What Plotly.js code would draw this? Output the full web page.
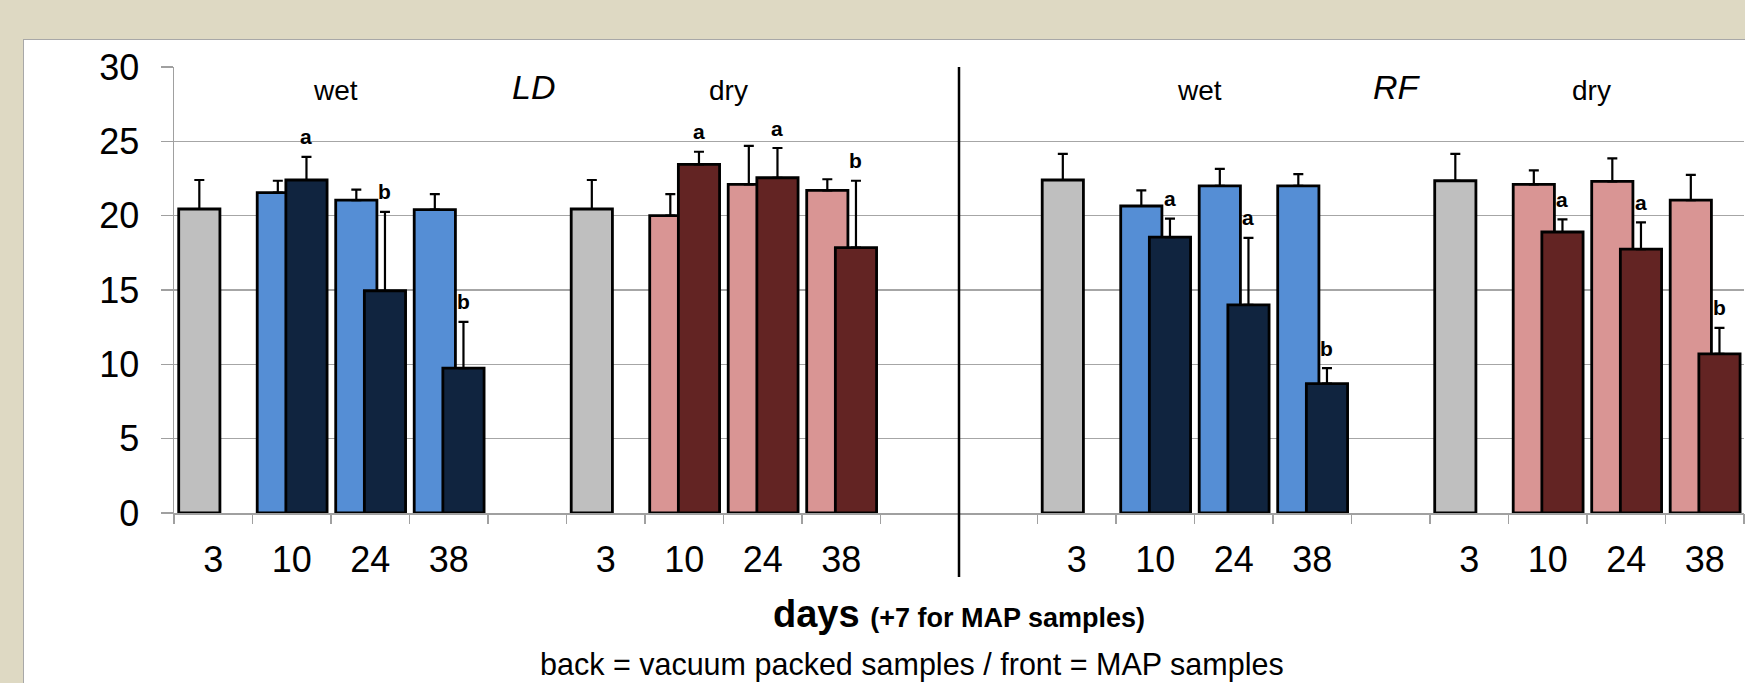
<!DOCTYPE html>
<html><head><meta charset="utf-8">
<script src="https://cdn.plot.ly/plotly-3.0.1.min.js"></script>
<style>
html,body{margin:0;padding:0;width:1745px;height:683px;overflow:hidden;background:#DED9C3;}
#panel{position:absolute;left:23px;top:39px;width:1760px;height:700px;background:#fff;border:1.5px solid #A8A8A8;}
#chart{position:absolute;left:0;top:0;width:1745px;height:683px;}
</style></head><body><div id="panel"></div><div id="chart"></div>
<script>
// ---- data ----
const dayLabels = ['3', '10', '24', '38'];
const groupLabels = ['wet', 'dry', 'wet', 'dry'];
const muscleLabels = ['LD', 'RF'];
// fresh (day 3) samples, one per group: LD wet, LD dry, RF wet, RF dry
const freshMean = [20.45, 20.45, 22.4, 22.35];
const freshSD   = [1.95, 1.95, 1.75, 1.8];
// vacuum packed (back), days 10, 24, 38
const ldWetVP = [21.55, 21.05, 20.4];   const ldWetVPsd = [0.8, 0.7, 1.05];
const ldDryVP = [20.0, 22.1, 21.7];     const ldDryVPsd = [1.45, 2.6, 0.75];
const rfWetVP = [20.65, 22.0, 22.0];    const rfWetVPsd = [1.05, 1.15, 0.8];
const rfDryVP = [22.1, 22.3, 21.05];    const rfDryVPsd = [0.95, 1.55, 1.7];
// MAP (front), days 10, 24, 38
const ldWetMAP = [22.4, 14.95, 9.75];   const ldWetMAPsd = [1.55, 5.3, 3.1];
const ldDryMAP = [23.45, 22.55, 17.85]; const ldDryMAPsd = [0.85, 2.0, 4.5];
const rfWetMAP = [18.55, 14.0, 8.7];    const rfWetMAPsd = [1.25, 4.5, 1.05];
const rfDryMAP = [18.9, 17.75, 10.7];   const rfDryMAPsd = [0.85, 1.8, 1.75];
// significance letters on MAP bars
const ldWetLetters = ['a', 'b', 'b'];
const ldDryLetters = ['a', 'a', 'b'];
const rfWetLetters = ['a', 'a', 'b'];
const rfDryLetters = ['a', 'a', 'b'];

// ---- layout helpers ----
const FONT = 'Liberation Sans, Arial, sans-serif';
const groupStart = [1, 6, 12, 17];
const vpColors  = ['#558ED5', '#D99594', '#558ED5', '#D99594'];
const mapColors = ['#10243F', '#632423', '#10243F', '#632423'];
const vpAll  = [ldWetVP, ldDryVP, rfWetVP, rfDryVP];
const vpSdAll = [ldWetVPsd, ldDryVPsd, rfWetVPsd, rfDryVPsd];
const mapAll = [ldWetMAP, ldDryMAP, rfWetMAP, rfDryMAP];
const mapSdAll = [ldWetMAPsd, ldDryMAPsd, rfWetMAPsd, rfDryMAPsd];
const lettersAll = [ldWetLetters, ldDryLetters, rfWetLetters, rfDryLetters];

const W = 0.525, OFF_BACK = -0.44, OFF_FRONT = -0.075;

const freshX = groupStart.slice();
const vpX = [], vpY = [], vpE = [], vpC = [];
const mapX = [], mapY = [], mapE = [], mapC = [];
const annotations = [];
groupStart.forEach((s, g) => {
  for (let i = 0; i < 3; i++) {
    const x = s + 1 + i;
    vpX.push(x); vpY.push(vpAll[g][i]); vpE.push(vpSdAll[g][i]); vpC.push(vpColors[g]);
    mapX.push(x); mapY.push(mapAll[g][i]); mapE.push(mapSdAll[g][i]); mapC.push(mapColors[g]);
    annotations.push({
      x: x + OFF_FRONT + W / 2, y: mapAll[g][i] + mapSdAll[g][i], xref: 'x', yref: 'y',
      text: '<b>' + lettersAll[g][i] + '</b>', showarrow: false, yshift: 20,
      font: {family: FONT, size: 21, color: '#000'}
    });
  }
  annotations.push({
    x: s + 1.56, y: 28.4, xref: 'x', yref: 'y', text: groupLabels[g], showarrow: false,
    font: {family: FONT, size: 28, color: '#000'}
  });
});
muscleLabels.forEach((m, k) => {
  annotations.push({
    x: groupStart[2 * k] + 4.08, y: 28.65, xref: 'x', yref: 'y', text: '<i>' + m + '</i>',
    showarrow: false, font: {family: FONT, size: 34, color: '#000'}
  });
});
annotations.push({
  x: 0.47, y: -0.3408, xref: 'paper', yref: 'paper', yanchor: 'middle',
  text: 'back = vacuum packed samples / front = MAP samples', showarrow: false,
  font: {family: FONT, size: 30.5, color: '#000'}
});

const tickX = [], tickT = [];
groupStart.forEach(s => dayLabels.forEach((d, i) => { tickX.push(s + i); tickT.push(d); }));
const boundaries = [];
for (let b = 0.5; b <= 20.5; b += 1) boundaries.push(b);

const line = {color: '#000', width: 2.8};
const err = (arr) => ({type: 'data', symmetric: false, array: arr, arrayminus: arr.map(() => 0),
  color: '#000', thickness: 2.2, width: 5});

const traces = [
  {type: 'bar', x: freshX, y: freshMean, width: W, offset: OFF_BACK, error_y: err(freshSD),
   marker: {color: '#BFBFBF', line: line}, hoverinfo: 'y'},
  {type: 'bar', x: vpX, y: vpY, width: W, offset: OFF_BACK, error_y: err(vpE),
   marker: {color: vpC, line: line}, hoverinfo: 'y'},
  {type: 'bar', x: mapX, y: mapY, width: W, offset: OFF_FRONT, error_y: err(mapE),
   marker: {color: mapC, line: line}, hoverinfo: 'y'},
  {type: 'scatter', x: [0.5], y: [0], xaxis: 'x2', yaxis: 'y', mode: 'markers',
   marker: {opacity: 0}, hoverinfo: 'skip', showlegend: false}
];

const layout = {
  width: 1745, height: 683,
  margin: {l: 174, r: 1, t: 67, b: 170},
  paper_bgcolor: 'rgba(0,0,0,0)', plot_bgcolor: 'rgba(0,0,0,0)',
  barmode: 'overlay', showlegend: false,
  font: {family: FONT, color: '#000'},
  xaxis: {
    range: [0.5, 20.5], tickmode: 'array', tickvals: tickX, ticktext: tickT,
    ticks: 'outside', ticklen: 14, tickcolor: 'rgba(0,0,0,0)',
    tickfont: {family: FONT, size: 36, color: '#000'},
    showgrid: false, zeroline: false, showline: true, linecolor: '#A0A0A0', linewidth: 1.5,
    title: {text: '<b>days <span style="font-size:27px">(+7 for MAP samples)</span></b>',
            font: {family: FONT, size: 38, color: '#000'}, standoff: 21},
    automargin: false, fixedrange: true
  },
  xaxis2: {
    overlaying: 'x', anchor: 'y', range: [0.5, 20.5], tickmode: 'array', tickvals: boundaries,
    ticks: 'outside', ticklen: 10, tickcolor: '#A0A0A0', tickwidth: 1.5,
    showticklabels: false, showgrid: false, zeroline: false, showline: false, fixedrange: true
  },
  yaxis: {
    range: [0, 30], tickmode: 'array', tickvals: [0, 5, 10, 15, 20, 25, 30],
    ticks: 'outside', ticklen: 12, tickcolor: '#A0A0A0', tickwidth: 1.5,
    tickfont: {family: FONT, size: 36, color: '#000'}, ticklabelstandoff: 14,
    showgrid: true, gridcolor: '#A6A6A6', gridwidth: 1.5,
    zeroline: false, showline: true, linecolor: '#A0A0A0', linewidth: 1.5,
    automargin: false, fixedrange: true
  },
  shapes: [
    {type: 'line', xref: 'x', yref: 'paper', x0: 10.5, x1: 10.5, y0: -0.1435, y1: 1,
     line: {color: '#000', width: 2.5}}
  ],
  annotations: annotations
};

Plotly.newPlot('chart', traces, layout, {displayModeBar: false, staticPlot: true});
</script></body></html>
